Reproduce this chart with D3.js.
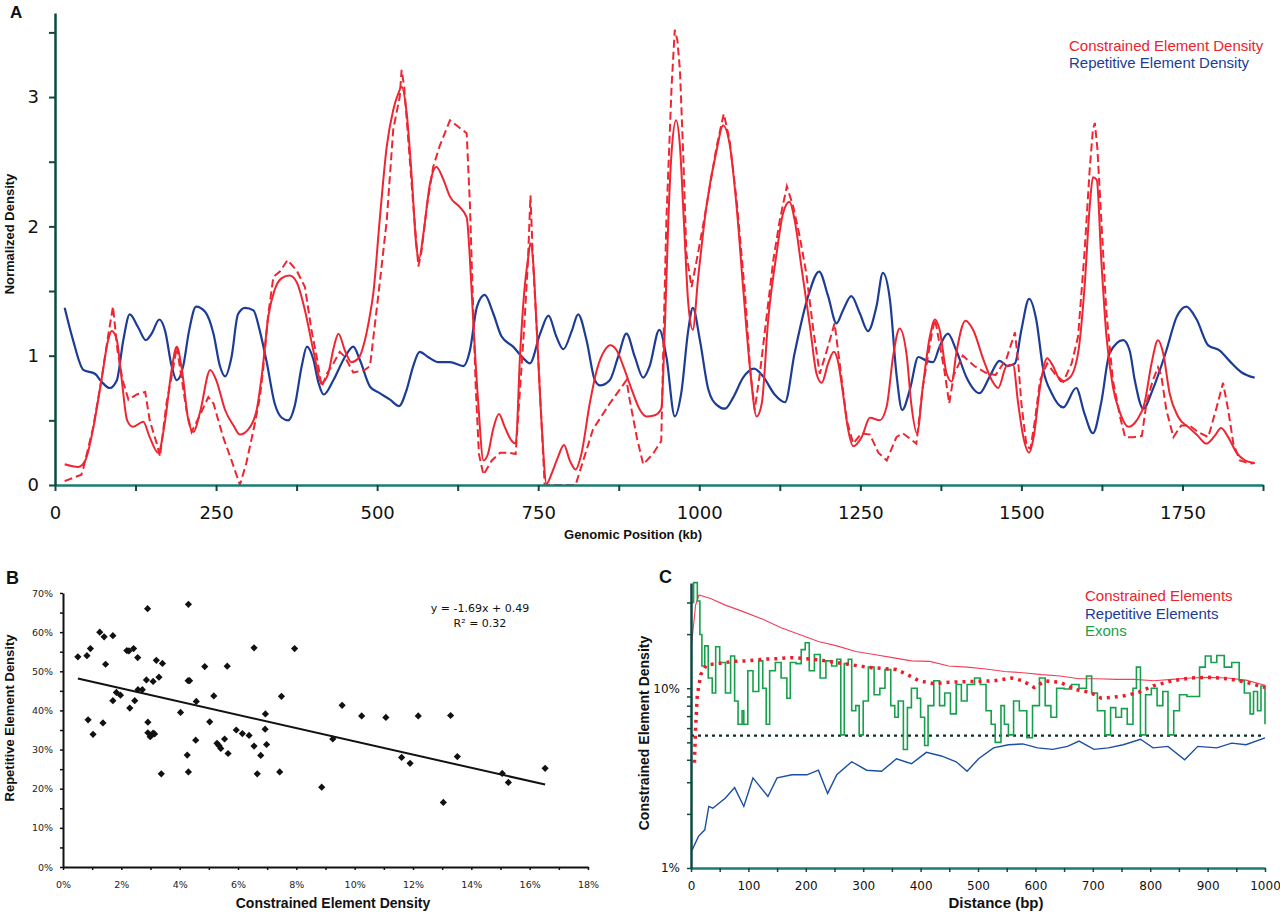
<!DOCTYPE html>
<html>
<head>
<meta charset="utf-8">
<script src="https://cdn.jsdelivr.net/npm/d3@7"></script>
<style>
  body { margin: 0; background: #fff; }
  svg { display: block; }
  .tickA text { font-family: "DejaVu Sans", Verdana, sans-serif; font-size: 18px; fill: #111; }
  .tickB text { font-family: "DejaVu Sans", Verdana, sans-serif; font-size: 9.5px; fill: #222; }
  .tickC text { font-family: "DejaVu Sans", Verdana, sans-serif; font-size: 12px; fill: #111; }
  .title { font-family: "Liberation Sans", Arial, sans-serif; font-weight: bold; fill: #111; }
  .legend { font-family: "Liberation Sans", Arial, sans-serif; font-size: 15px; }
</style>
</head>
<body>
<script>
// ---- panel A : normalized density along the region (kb, value)
var constrainedSolid = [[15,0.16],[36,0.14],[47,0.19],[59,0.43],[72,0.81],[83,1.13],[88,1.19],[96,1.12],[103,0.84],[112,0.50],[121,0.45],[137,0.49],[147,0.37],[160,0.25],[171,0.50],[181,0.89],[189,1.07],[197,0.89],[207,0.50],[215,0.41],[225,0.56],[241,0.89],[251,0.80],[264,0.58],[277,0.46],[287,0.39],[300,0.43],[313,0.58],[322,0.89],[331,1.30],[341,1.51],[352,1.60],[364,1.62],[375,1.57],[388,1.35],[401,1.04],[414,0.79],[424,0.86],[432,1.05],[440,1.17],[450,1.04],[460,0.95],[471,0.98],[481,1.12],[489,1.32],[494,1.48],[504,2.05],[515,2.62],[525,2.90],[533,3.03],[538,3.08],[546,2.87],[554,2.36],[561,1.84],[565,1.75],[572,1.95],[582,2.33],[592,2.46],[603,2.36],[613,2.23],[628,2.15],[639,2.07],[644,1.75],[649,1.28],[657,0.63],[665,0.19],[672,0.24],[680,0.43],[689,0.55],[698,0.45],[709,0.34],[715,0.32],[722,1.02],[729,1.53],[734,1.74],[738,1.87],[742,1.74],[747,1.28],[755,0.50],[763,0.01],[771,0.09],[781,0.22],[790,0.31],[799,0.19],[808,0.12],[817,0.24],[830,0.63],[841,0.89],[853,1.04],[862,1.08],[872,1.04],[882,0.92],[895,0.74],[908,0.58],[918,0.53],[931,0.54],[941,0.59],[947,1.28],[952,2.05],[957,2.57],[964,2.82],[970,2.62],[976,2.05],[983,1.40],[990,1.20],[998,1.59],[1011,2.15],[1027,2.59],[1037,2.78],[1047,2.64],[1058,2.15],[1068,1.53],[1079,0.89],[1089,0.53],[1097,0.63],[1107,1.28],[1120,1.79],[1130,2.10],[1140,2.19],[1148,2.05],[1159,1.67],[1172,1.22],[1182,0.86],[1190,0.79],[1200,0.94],[1209,1.03],[1216,0.94],[1223,0.71],[1231,0.43],[1239,0.30],[1252,0.37],[1265,0.52],[1280,0.50],[1291,0.61],[1301,1.00],[1311,1.21],[1322,1.00],[1329,0.63],[1338,0.40],[1347,0.76],[1358,1.15],[1366,1.28],[1373,1.20],[1384,0.86],[1392,0.80],[1399,1.02],[1413,1.27],[1425,1.20],[1441,0.97],[1454,0.81],[1464,0.75],[1477,0.92],[1487,0.93],[1495,0.63],[1503,0.37],[1512,0.25],[1519,0.37],[1529,0.76],[1540,0.98],[1549,0.92],[1562,0.80],[1575,0.83],[1588,1.02],[1598,1.53],[1606,2.15],[1611,2.38],[1617,2.36],[1624,1.74],[1632,1.15],[1642,0.76],[1653,0.56],[1666,0.45],[1679,0.50],[1691,0.63],[1702,0.94],[1712,1.12],[1720,1.02],[1730,0.71],[1743,0.53],[1761,0.44],[1774,0.38],[1787,0.32],[1800,0.38],[1810,0.44],[1821,0.37],[1834,0.25],[1847,0.19],[1862,0.17]];

var constrainedDashed = [[15,0.03],[41,0.08],[44,0.13],[59,0.44],[72,0.81],[83,1.17],[90,1.38],[97,1.04],[105,0.81],[114,0.66],[127,0.70],[140,0.72],[147,0.50],[158,0.32],[163,0.22],[173,0.63],[184,0.92],[189,1.07],[197,0.81],[204,0.58],[212,0.41],[225,0.54],[238,0.68],[246,0.63],[261,0.37],[274,0.19],[287,0.0],[297,0.17],[310,0.47],[318,0.68],[323,0.89],[331,1.32],[339,1.61],[349,1.65],[361,1.74],[375,1.66],[388,1.53],[398,1.20],[407,0.97],[414,0.76],[422,0.86],[432,0.94],[442,1.03],[450,0.99],[463,0.87],[481,0.89],[489,0.92],[504,1.56],[515,2.05],[525,2.75],[535,3.00],[538,3.21],[542,3.08],[548,2.69],[556,2.17],[564,1.69],[569,1.81],[577,2.15],[587,2.46],[597,2.62],[613,2.82],[626,2.77],[639,2.72],[644,2.17],[648,1.53],[653,0.76],[658,0.24],[665,0.08],[678,0.19],[691,0.25],[703,0.25],[715,0.24],[728,1.20],[734,1.72],[738,2.24],[742,1.72],[747,1.28],[755,0.50],[760,0.0],[808,0.0],[835,0.43],[861,0.63],[887,0.81],[892,0.66],[903,0.37],[913,0.16],[928,0.24],[941,0.34],[944,1.02],[949,2.05],[957,3.08],[962,3.52],[966,3.44],[970,3.21],[975,2.57],[980,1.79],[988,1.53],[998,1.79],[1011,2.15],[1027,2.62],[1038,2.87],[1047,2.67],[1058,2.20],[1071,1.48],[1079,0.89],[1086,0.58],[1094,0.86],[1104,1.28],[1115,1.74],[1125,2.05],[1136,2.31],[1146,2.15],[1156,1.92],[1166,1.64],[1177,1.20],[1187,0.86],[1198,1.04],[1210,1.25],[1218,0.94],[1229,0.50],[1239,0.32],[1252,0.40],[1265,0.39],[1278,0.25],[1291,0.19],[1306,0.37],[1316,0.40],[1337,0.32],[1347,0.76],[1362,1.20],[1366,1.28],[1380,0.90],[1388,0.63],[1395,0.85],[1409,1.00],[1427,0.92],[1444,0.87],[1460,0.85],[1477,0.98],[1490,1.18],[1495,0.95],[1500,0.63],[1508,0.30],[1514,0.28],[1521,0.50],[1529,0.81],[1540,0.94],[1552,0.86],[1565,0.80],[1578,0.94],[1588,1.15],[1598,1.80],[1606,2.44],[1611,2.75],[1614,2.80],[1618,2.60],[1624,2.05],[1632,1.33],[1642,0.81],[1653,0.53],[1661,0.37],[1674,0.37],[1687,0.38],[1694,0.63],[1704,0.81],[1712,0.91],[1717,0.85],[1725,0.58],[1736,0.37],[1748,0.46],[1761,0.46],[1774,0.41],[1790,0.37],[1803,0.60],[1813,0.79],[1821,0.58],[1829,0.32],[1839,0.19],[1855,0.165],[1862,0.17]];

var repetitiveA = [[15,1.37],[28,1.12],[44,0.89],[62,0.86],[72,0.80],[85,0.75],[96,0.81],[106,1.12],[116,1.32],[129,1.22],[141,1.12],[150,1.17],[162,1.28],[171,1.19],[181,0.92],[189,0.81],[199,0.92],[208,1.19],[219,1.38],[233,1.34],[246,1.17],[256,0.92],[264,0.84],[274,0.99],[284,1.32],[295,1.37],[308,1.35],[318,1.19],[329,0.94],[341,0.63],[352,0.52],[362,0.50],[372,0.61],[383,0.92],[391,1.07],[401,0.97],[409,0.79],[417,0.70],[432,0.81],[450,0.99],[463,1.07],[473,0.97],[489,0.76],[504,0.71],[520,0.66],[534,0.61],[546,0.74],[556,0.92],[566,1.03],[579,0.99],[595,0.95],[613,0.95],[634,0.92],[644,1.04],[655,1.38],[667,1.47],[680,1.33],[693,1.15],[711,1.07],[727,0.98],[737,0.94],[753,1.17],[766,1.31],[778,1.15],[789,1.05],[802,1.19],[812,1.32],[825,1.12],[838,0.81],[846,0.77],[861,0.81],[874,0.99],[887,1.17],[900,0.99],[913,0.83],[923,0.92],[938,1.20],[949,0.99],[962,0.53],[972,0.71],[983,1.20],[990,1.37],[1001,1.12],[1014,0.74],[1027,0.62],[1040,0.59],[1053,0.68],[1068,0.83],[1085,0.90],[1099,0.84],[1117,0.70],[1133,0.64],[1148,1.02],[1169,1.46],[1186,1.65],[1200,1.46],[1213,1.25],[1223,1.35],[1236,1.46],[1249,1.33],[1262,1.19],[1275,1.38],[1285,1.64],[1296,1.43],[1306,0.86],[1315,0.58],[1327,0.74],[1340,0.99],[1353,0.96],[1363,0.95],[1373,1.07],[1386,1.17],[1399,1.04],[1415,0.83],[1435,0.71],[1451,0.84],[1466,0.96],[1479,0.92],[1490,0.94],[1500,1.20],[1512,1.44],[1523,1.28],[1534,0.89],[1547,0.71],[1565,0.60],[1585,0.75],[1598,0.55],[1611,0.40],[1624,0.64],[1637,1.02],[1658,1.12],[1668,1.04],[1676,0.81],[1689,0.59],[1704,0.74],[1725,1.04],[1741,1.30],[1756,1.38],[1772,1.28],[1790,1.08],[1808,1.04],[1823,0.96],[1842,0.87],[1862,0.83]];

var ticksAx = d3.range(0, 1876, 125);
var ticksAy = d3.range(0, 3.51, 0.5);
var legendA = [["Constrained Element Density", "#ea2330"], ["Repetitive Element Density", "#1c3c95"]];

// ---- panel B : scatter (constrained %, repetitive %)
var scatterPoints = [[0.51,53.7],[0.82,54.0],[0.94,55.8],[0.86,37.6],[1.03,33.9],[1.26,60.0],[1.41,58.8],[1.46,51.8],[1.37,36.8],[1.71,59.1],[1.71,42.5],[1.83,44.6],[1.97,43.9],[2.19,55.3],[2.26,55.2],[2.42,55.8],[2.56,53.5],[2.29,40.6],[2.46,42.5],[2.57,45.3],[2.72,45.3],[2.90,66.0],[2.86,47.8],[2.91,37.0],[2.91,34.3],[3.03,33.7],[3.09,34.2],[3.14,34.0],[2.99,33.3],[3.09,47.4],[3.20,52.8],[3.29,48.5],[3.41,52.0],[3.37,23.8],[4.03,39.5],[4.30,67.1],[4.29,47.6],[4.34,47.6],[4.26,28.6],[4.30,24.3],[4.57,42.3],[4.55,32.4],[4.86,51.2],[5.03,37.1],[5.17,43.7],[5.28,31.6],[5.35,31.0],[5.41,30.3],[5.54,32.7],[5.63,51.3],[5.66,29.0],[5.94,35.0],[6.15,34.1],[6.38,33.6],[6.55,56.0],[6.55,30.9],[6.66,23.8],[6.78,28.5],[6.94,39.1],[6.93,35.2],[6.98,31.3],[7.43,24.3],[7.49,43.6],[7.94,55.8],[8.87,20.4],[9.25,32.7],[9.57,41.3],[10.24,38.6],[11.07,38.2],[11.61,28.0],[11.90,26.5],[12.18,38.6],[13.04,16.5],[13.29,38.7],[13.52,28.2],[15.06,23.9],[15.27,21.6],[16.53,25.2]];
var trendSlope = -1.69, trendIntercept = 0.49;
var trendText = ["y = -1.69x + 0.49", "R\u00b2 = 0.32"];

// ---- panel C : density vs distance (bp, fraction)
var constrainedC = [[1,0.175],[8,0.29],[14,0.33],[34,0.316],[60,0.29],[92,0.266],[125,0.242],[157,0.217],[189,0.199],[222,0.182],[254,0.172],[287,0.16],[319,0.154],[351,0.148],[384,0.142],[416,0.141],[449,0.133],[481,0.131],[514,0.128],[546,0.124],[578,0.122],[611,0.119],[643,0.117],[676,0.113],[708,0.113],[741,0.112],[773,0.112],[806,0.110],[838,0.112],[870,0.114],[903,0.115],[935,0.114],[967,0.111],[1000,0.104]];
var constrainedCDotted = [[6,0.0385],[8,0.06],[11,0.092],[17,0.119],[27,0.135],[47,0.137],[73,0.141],[99,0.142],[125,0.145],[150,0.146],[176,0.148],[202,0.146],[228,0.143],[254,0.139],[280,0.135],[306,0.131],[332,0.129],[358,0.127],[377,0.119],[397,0.110],[423,0.106],[449,0.108],[488,0.109],[527,0.110],[559,0.114],[578,0.110],[598,0.101],[617,0.110],[643,0.108],[669,0.0985],[695,0.095],[715,0.088],[734,0.089],[757,0.091],[780,0.095],[805,0.103],[838,0.110],[870,0.114],[903,0.115],[935,0.113],[967,0.108],[1000,0.101]];
var repetitiveC = [[2,0.0126],[13,0.015],[24,0.0163],[31,0.022],[38,0.0215],[60,0.0245],[76,0.028],[92,0.022],[108,0.0317],[134,0.025],[150,0.0317],[176,0.033],[202,0.033],[222,0.035],[238,0.026],[254,0.033],[280,0.039],[306,0.035],[332,0.0345],[358,0.0405],[384,0.038],[410,0.044],[436,0.042],[462,0.039],[481,0.0345],[501,0.0405],[527,0.0466],[553,0.0485],[578,0.049],[604,0.0466],[630,0.0457],[656,0.0475],[676,0.0508],[702,0.0457],[727,0.0466],[753,0.0485],[783,0.052],[805,0.0466],[831,0.0475],[860,0.040],[883,0.0475],[916,0.0466],[942,0.0495],[967,0.0485],[1000,0.053]];
var exonsC = [[1,0.30],[4.5,0.387],[11,0.306],[15.5,0.199],[19,0.133],[24,0.172],[30,0.114],[37,0.094],[43,0.17],[50,0.139],[60,0.094],[69,0.151],[76,0.085],[82,0.063],[89,0.075],[92,0.063],[99,0.125],[108,0.096],[118,0.142],[125,0.10],[131,0.063],[137,0.125],[147,0.139],[157,0.114],[167,0.088],[173,0.139],[183,0.137],[192,0.164],[199,0.179],[206,0.125],[215,0.154],[225,0.114],[235,0.142],[245,0.133],[254,0.145],[261,0.055],[267,0.137],[274,0.145],[280,0.075],[287,0.08],[293,0.055],[300,0.085],[309,0.131],[319,0.092],[329,0.10],[338,0.127],[348,0.08],[355,0.069],[361,0.085],[370,0.0456],[377,0.078],[384,0.10],[394,0.088],[400,0.069],[407,0.048],[413,0.08],[423,0.11],[433,0.08],[442,0.094],[452,0.072],[462,0.105],[471,0.085],[481,0.105],[494,0.114],[504,0.105],[514,0.075],[523,0.063],[530,0.05],[540,0.08],[546,0.063],[553,0.055],[562,0.085],[572,0.075],[585,0.053],[595,0.08],[607,0.114],[617,0.08],[627,0.069],[637,0.10],[650,0.099],[663,0.105],[676,0.10],[689,0.117],[698,0.094],[708,0.075],[721,0.055],[731,0.078],[740,0.069],[750,0.077],[760,0.063],[770,0.10],[776,0.131],[783,0.055],[792,0.092],[802,0.10],[812,0.08],[822,0.096],[831,0.055],[841,0.075],[851,0.092],[864,0.09],[877,0.09],[886,0.131],[896,0.151],[906,0.139],[916,0.152],[929,0.131],[942,0.139],[955,0.11],[964,0.094],[974,0.072],[980,0.096],[987,0.075],[993,0.103],[1000,0.063]];
var exonBaseline = [[0,0.0545],[1000,0.0545]];
var ticksCx = d3.range(0, 1001, 50);
var ticksCy = [0.01,0.02,0.03,0.04,0.05,0.06,0.07,0.08,0.09,0.1,0.2,0.3];
var legendC = [["Constrained Elements", "#ea2330"], ["Repetitive Elements", "#1c3c95"], ["Exons", "#17a04c"]];

var svg = d3.select("body").append("svg")
    .attr("width", 1280)
    .attr("height", 914);
svg.append("rect").attr("width", 1280).attr("height", 914).attr("fill", "#fff");

var darkAxis = "#0d4a42", tealAxis = "#1b7c74";

// ================= A =================
var xA = d3.scaleLinear().domain([0, 1875]).range([55, 1263]);
var yA = d3.scaleLinear().domain([0, 3.65]).range([485, 13]);

svg.append("clipPath").attr("id", "clipA")
  .append("rect").attr("x", 55).attr("y", 0).attr("width", 1215).attr("height", 486);

var gA = svg.append("g").attr("clip-path", "url(#clipA)");
var smoothA = d3.line().x(function(d) { return xA(d[0]); }).y(function(d) { return yA(d[1]); }).curve(d3.curveMonotoneX);
var straightA = d3.line().x(function(d) { return xA(d[0]); }).y(function(d) { return yA(d[1]); });

gA.append("path").datum(repetitiveA).attr("d", smoothA)
    .attr("fill", "none").attr("stroke", "#1c3c95").attr("stroke-width", 2.2);
gA.append("path").datum(constrainedDashed).attr("d", straightA)
    .attr("fill", "none").attr("stroke", "#ee2632").attr("stroke-width", 2)
    .attr("stroke-dasharray", "8,4");
gA.append("path").datum(constrainedSolid).attr("d", smoothA)
    .attr("fill", "none").attr("stroke", "#ee2632").attr("stroke-width", 2);

var axAx = svg.append("g").attr("class", "tickA")
    .attr("transform", "translate(0,485)")
    .call(d3.axisBottom(xA).tickValues(ticksAx).tickSize(6).tickSizeOuter(0).tickPadding(15)
        .tickFormat(function(d) { return d % 250 === 0 ? d : ""; }));
var axAy = svg.append("g").attr("class", "tickA")
    .attr("transform", "translate(55,0)")
    .call(d3.axisLeft(yA).tickValues(ticksAy).tickSize(6).tickSizeOuter(0).tickPadding(10)
        .tickFormat(function(d) { return d % 1 === 0 ? d : ""; }));
axAx.select(".domain").attr("stroke", tealAxis).attr("stroke-width", 2.5);
axAx.selectAll(".tick line").attr("stroke", darkAxis).attr("stroke-width", 2);
axAy.select(".domain").attr("stroke", darkAxis).attr("stroke-width", 2.5);
axAy.selectAll(".tick line").attr("stroke", darkAxis).attr("stroke-width", 2);

svg.append("text").attr("class", "title").attr("x", 10).attr("y", 18)
    .style("font-size", "17px").text("A");
svg.append("text").attr("class", "title").attr("x", 633).attr("y", 539)
    .attr("text-anchor", "middle").style("font-size", "13px").text("Genomic Position (kb)");
svg.append("text").attr("class", "title")
    .attr("transform", "translate(14,234) rotate(-90)")
    .attr("text-anchor", "middle").style("font-size", "13px").text("Normalized Density");

svg.selectAll(".legA").data(legendA).enter().append("text")
    .attr("class", "legend")
    .attr("x", 1069)
    .attr("y", function(d, i) { return 51 + i * 17; })
    .attr("fill", function(d) { return d[1]; })
    .text(function(d) { return d[0]; });

// ================= B =================
var xB = d3.scaleLinear().domain([0, 0.18]).range([63, 588]);
var yB = d3.scaleLinear().domain([0, 0.70]).range([867, 593]);
var pct = d3.format(".0%");

var axBx = svg.append("g").attr("class", "tickB")
    .attr("transform", "translate(0,867)")
    .call(d3.axisBottom(xB).tickValues(d3.range(0, 0.1801, 0.01)).tickSize(3).tickSizeOuter(0).tickPadding(11)
        .tickFormat(function(d, i) { return i % 2 === 0 ? pct(d) : ""; }));
var axBy = svg.append("g").attr("class", "tickB")
    .attr("transform", "translate(63,0)")
    .call(d3.axisLeft(yB).tickValues(d3.range(0, 0.7001, 0.05)).tickSize(3).tickSizeOuter(0).tickPadding(7)
        .tickFormat(function(d, i) { return i % 2 === 0 ? pct(d) : ""; }));
[axBx, axBy].forEach(function(a) {
    a.select(".domain").attr("stroke", "#111").attr("stroke-width", 2);
    a.selectAll(".tick line").attr("stroke", "#111").attr("stroke-width", 1.5);
});

var xExtent = d3.extent(scatterPoints, function(d) { return d[0] / 100; });
svg.append("line")
    .attr("x1", xB(xExtent[0])).attr("y1", yB(trendSlope * xExtent[0] + trendIntercept))
    .attr("x2", xB(xExtent[1])).attr("y2", yB(trendSlope * xExtent[1] + trendIntercept))
    .attr("stroke", "#111").attr("stroke-width", 2);

var diamond = d3.symbol().type(d3.symbolSquare).size(26);
svg.selectAll(".pt").data(scatterPoints).enter().append("path")
    .attr("d", diamond)
    .attr("transform", function(d) { return "translate(" + xB(d[0] / 100) + "," + yB(d[1] / 100) + ") rotate(45)"; })
    .attr("fill", "#111");

svg.selectAll(".eq").data(trendText).enter().append("text")
    .attr("x", 480).attr("y", function(d, i) { return 612 + i * 15; })
    .attr("text-anchor", "middle")
    .style("font-family", "'DejaVu Sans', Verdana, sans-serif").style("font-size", "11px").attr("fill", "#111")
    .text(function(d) { return d; });

svg.append("text").attr("class", "title").attr("x", 6).attr("y", 584)
    .style("font-size", "18px").text("B");
svg.append("text").attr("class", "title").attr("x", 333).attr("y", 908)
    .attr("text-anchor", "middle").style("font-size", "14px").text("Constrained Element Density");
svg.append("text").attr("class", "title")
    .attr("transform", "translate(14,718) rotate(-90)")
    .attr("text-anchor", "middle").style("font-size", "13px").text("Repetitive Element Density");

// ================= C =================
var xC = d3.scaleLinear().domain([0, 1000]).range([691, 1265]);
var yC = d3.scaleLog().domain([0.01, 0.385]).range([868, 583]);
var lineC = d3.line().x(function(d) { return xC(d[0]); }).y(function(d) { return yC(d[1]); });
// exon trace in the source is a run of flat steps
var stepC = d3.line().x(function(d) { return xC(d[0]); }).y(function(d) { return yC(d[1]); }).curve(d3.curveStepAfter);

svg.append("path").datum(exonBaseline).attr("d", lineC)
    .attr("fill", "none").attr("stroke", "#0b2e26").attr("stroke-width", 2.2).attr("stroke-dasharray", "3,4");
svg.append("path").datum(repetitiveC).attr("d", lineC)
    .attr("fill", "none").attr("stroke", "#1a4fa3").attr("stroke-width", 1.4);
svg.append("path").datum(constrainedC).attr("d", lineC)
    .attr("fill", "none").attr("stroke", "#f0405a").attr("stroke-width", 1.1);
svg.append("path").datum(exonsC).attr("d", stepC)
    .attr("fill", "none").attr("stroke", "#17a04c").attr("stroke-width", 1.6);
svg.append("path").datum(constrainedCDotted).attr("d", lineC)
    .attr("fill", "none").attr("stroke", "#ee1c2a").attr("stroke-width", 3.5).attr("stroke-dasharray", "3,5");

var axCx = svg.append("g").attr("class", "tickC")
    .attr("transform", "translate(0,868)")
    .call(d3.axisBottom(xC).tickValues(ticksCx).tickSize(4).tickSizeOuter(0).tickPadding(9)
        .tickFormat(function(d) { return d % 100 === 0 ? d : ""; }));
var axCy = svg.append("g").attr("class", "tickC")
    .attr("transform", "translate(691,0)")
    .call(d3.axisLeft(yC).tickValues(ticksCy).tickSize(4).tickSizeOuter(0).tickPadding(7)
        .tickFormat(function(d) { return (d === 0.01 || d === 0.1) ? pct(d) : ""; }));
axCx.select(".domain").attr("stroke", tealAxis).attr("stroke-width", 2.5);
axCx.selectAll(".tick line").attr("stroke", darkAxis).attr("stroke-width", 1.5);
axCy.select(".domain").attr("stroke", darkAxis).attr("stroke-width", 2.5);
axCy.selectAll(".tick line").attr("stroke", darkAxis).attr("stroke-width", 1.5);

svg.append("text").attr("class", "title").attr("x", 659).attr("y", 583)
    .style("font-size", "18px").text("C");
svg.append("text").attr("class", "title").attr("x", 996).attr("y", 908)
    .attr("text-anchor", "middle").style("font-size", "15px").text("Distance (bp)");
svg.append("text").attr("class", "title")
    .attr("transform", "translate(649,733) rotate(-90)")
    .attr("text-anchor", "middle").style("font-size", "14px").text("Constrained Element Density");

svg.selectAll(".legC").data(legendC).enter().append("text")
    .attr("class", "legend")
    .attr("x", 1085)
    .attr("y", function(d, i) { return 601 + i * 17.5; })
    .attr("fill", function(d) { return d[1]; })
    .text(function(d) { return d[0]; });
</script>
</body>
</html>
